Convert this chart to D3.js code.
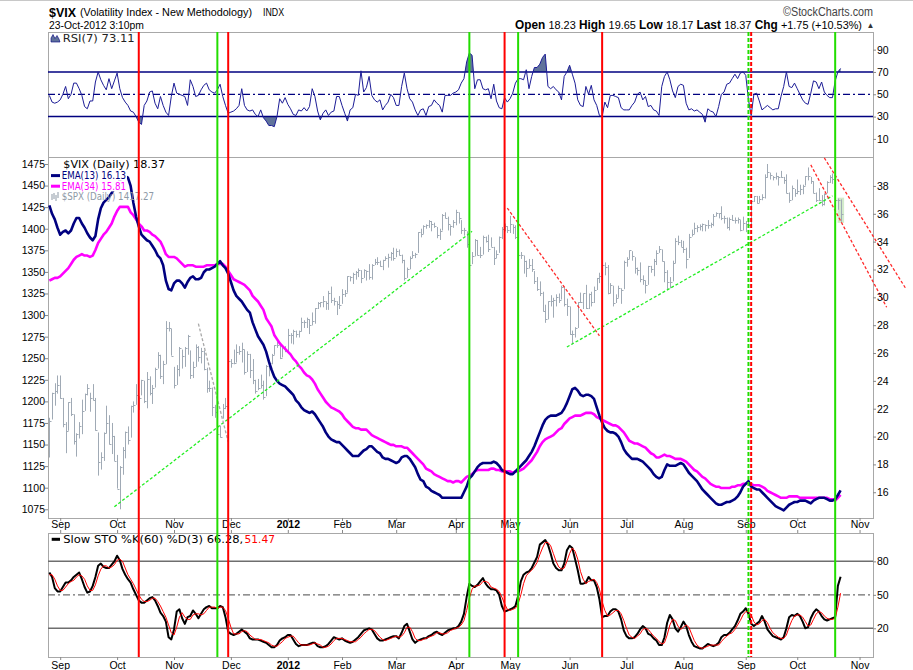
<!DOCTYPE html>
<html><head><meta charset="utf-8">
<script src="https://cdn.jsdelivr.net/npm/d3@7/dist/d3.min.js"></script>
<style>body{margin:0;background:#fff}svg{display:block}</style>
</head><body>
<svg id="c" width="913" height="670"></svg>
<script>
// ---------------- DATA ----------------
const seriesStart = '2011-08-26';
const calendarEnd = '2012-12-31';
const marketHolidays = ['2011-09-05','2011-11-24','2011-12-26','2012-01-02','2012-01-16','2012-02-20','2012-04-06','2012-05-28','2012-07-04','2012-09-03'];

// $SPX daily high / low / close (Aug 26 2011 .. Oct 23 2012)
const spxHigh = [1181,1210,1221,1230,
1230,1204,1176,1199,1204,1185,1163,1176,1202,1209,1220,1210,1220,1204,1164,1141,1164,1195,1184,1175,1160,
1138,1125,1147,1165,1171,1195,1200,1220,1206,1225,1224,1234,1229,1219,1239,1257,1254,1247,1293,1292,1284,
1240,1242,1263,1260,1263,1277,1259,1246,1266,1264,1262,1259,1239,1224,1216,1196,1187,1172,1197,1204,1247,
1249,1260,1266,1264,1268,1260,1258,1255,1249,1225,1226,1231,1224,1242,1245,1255,1265,1269,1266,1264,1264,
1284,1279,1283,1282,1282,1297,1294,1297,1295,1303,1308,1315,1315,1322,1316,1328,1333,1320,1316,1322,
1330,1329,1345,1345,1349,1351,1354,1352,1353,1351,1359,1359,1365,1367,1363,1364,1368,1371,1373,1378,
1377,1376,1370,1364,1355,1368,1374,1372,1396,1400,1404,1405,1410,1409,1407,1402,1400,1417,1419,1414,1404,1410,
1422,1419,1410,1401,1397,1384,1373,1388,1387,1379,1392,1391,1393,1390,1379,1375,1391,1402,1406,1403,
1415,1405,1404,1392,1373,1369,1363,1365,1365,1351,1344,1339,1327,1312,1316,1323,1320,1324,1325,1334,1332,1319,
1310,1282,1286,1315,1326,1325,1335,1325,1327,1333,1343,1349,1363,1361,1358,1337,1334,1324,1334,1331,1363,
1367,1375,1374,1367,1355,1361,1346,1340,1357,1357,1365,1375,1380,1376,1362,1352,1344,1363,1389,1392,1387,
1386,1378,1394,1399,1407,1404,1405,1406,1405,1410,1407,1417,1419,1418,1426,1415,1413,1413,1416,1413,1413,1410,1414,
1409,1408,1433,1438,1438,1438,1440,1463,1475,1465,1461,1465,1461,1467,1460,1463,1442,1450,1446,
1457,1451,1451,1461,1471,1460,1455,1442,1447,1439,1441,1455,1462,1464,1458,1435,1434];
const spxLow = [1135,1179,1195,1209,
1203,1170,1140,1166,1183,1150,1136,1157,1162,1189,1207,1188,1201,1166,1114,1121,1131,1163,1150,1139,1131,
1099,1075,1115,1134,1150,1158,1187,1196,1190,1207,1198,1192,1207,1197,1216,1238,1226,1220,1243,1281,1253,
1215,1219,1229,1238,1240,1254,1226,1227,1240,1246,1244,1236,1210,1211,1183,1181,1161,1158,1180,1191,1197,
1239,1243,1245,1254,1245,1231,1234,1227,1220,1209,1213,1215,1202,1206,1229,1243,1254,1262,1249,1251,1257,
1258,1267,1266,1274,1274,1281,1285,1285,1278,1288,1290,1307,1309,1309,1306,1306,1314,1311,1300,1307,
1313,1321,1326,1339,1336,1341,1344,1337,1343,1340,1341,1341,1358,1358,1356,1352,1363,1355,1363,1363,
1367,1369,1360,1340,1343,1353,1366,1366,1372,1390,1394,1400,1401,1397,1401,1389,1387,1398,1412,1398,1392,1401,
1404,1406,1394,1392,1378,1357,1359,1368,1369,1366,1370,1384,1373,1379,1358,1366,1372,1388,1397,1395,
1395,1394,1388,1367,1365,1348,1344,1354,1350,1336,1328,1322,1304,1291,1295,1310,1297,1310,1314,1318,1310,1299,
1277,1266,1274,1285,1314,1307,1307,1307,1310,1314,1329,1337,1345,1346,1324,1325,1310,1314,1320,1313,1330,
1356,1365,1363,1348,1346,1338,1335,1325,1335,1349,1345,1358,1372,1362,1338,1330,1331,1339,1360,1381,1379,
1372,1354,1366,1391,1394,1396,1398,1397,1397,1400,1401,1403,1414,1412,1410,1406,1400,1398,1409,1406,1406,1397,1398,
1396,1403,1404,1431,1429,1430,1433,1435,1459,1457,1456,1457,1450,1459,1452,1441,1430,1433,1437,
1440,1439,1440,1450,1456,1452,1441,1431,1432,1426,1427,1441,1453,1452,1430,1422,1408];
const spxClose = [1177,1210,1212,1219,
1204,1174,1166,1199,1185,1154,1162,1172,1189,1209,1216,1204,1202,1167,1130,1136,1163,1175,1151,1160,1131,
1099,1124,1144,1165,1155,1195,1196,1207,1204,1225,1200,1226,1210,1215,1238,1254,1229,1243,1285,1285,1253,
1219,1237,1262,1253,1262,1276,1230,1240,1263,1251,1258,1237,1216,1216,1193,1188,1162,1159,1192,1195,1247,
1244,1245,1257,1258,1261,1234,1255,1236,1225,1212,1215,1219,1205,1241,1244,1254,1265,1265,1250,1263,1258,
1277,1277,1281,1278,1281,1292,1292,1296,1289,1293,1308,1314,1315,1316,1314,1326,1318,1316,1313,1312,
1324,1326,1345,1344,1348,1350,1352,1343,1352,1351,1344,1358,1361,1362,1357,1364,1366,1367,1372,1366,
1374,1370,1364,1343,1353,1366,1370,1371,1396,1394,1403,1404,1409,1405,1403,1393,1397,1416,1412,1405,1403,1408,
1419,1413,1398,1398,1382,1358,1368,1387,1370,1369,1390,1386,1377,1379,1366,1371,1391,1400,1403,1398,
1406,1402,1391,1369,1370,1363,1355,1358,1353,1339,1330,1325,1305,1295,1316,1316,1318,1321,1318,1333,1313,1310,
1278,1278,1285,1315,1315,1325,1308,1324,1315,1329,1343,1345,1358,1356,1325,1335,1314,1320,1331,1329,1362,
1365,1375,1368,1355,1352,1342,1341,1335,1357,1353,1363,1372,1377,1363,1350,1338,1338,1360,1386,1385,1379,
1376,1365,1391,1394,1401,1402,1403,1406,1404,1404,1405,1415,1418,1418,1413,1413,1402,1411,1410,1410,1411,1399,1407,
1405,1404,1432,1438,1430,1434,1437,1460,1466,1462,1460,1461,1460,1460,1456,1441,1433,1447,1441,
1444,1446,1450,1461,1461,1455,1441,1433,1433,1429,1440,1454,1460,1458,1433,1433,1417];

// $VIX EMA(13) and EMA(34)
const vixEma13 = [36.6,36.0,35.6,35.0,34.5,34.7,34.8,34.6,34.8,35.3,
35.7,35.7,35.3,35.0,34.6,34.3,34.1,34.4,35.6,36.4,
36.8,37.0,37.2,37.5,37.8,38.1,38.4,38.6,38.7,38.6,
38.0,36.8,35.8,35.1,34.5,34.3,34.1,34.0,33.7,33.4,
33.0,32.8,32.3,31.2,30.6,30.5,31.0,31.2,31.2,31.0,
30.7,31.1,31.4,31.5,31.3,31.3,31.4,31.8,32.0,32.0,
32.1,32.2,32.4,32.6,32.3,32.1,31.7,31.1,30.5,30.1,
29.9,29.7,29.4,29.1,28.9,28.2,27.7,27.2,26.9,26.6,
26.1,25.4,24.8,24.3,24.0,23.8,23.7,23.6,23.4,23.2,
23.0,22.6,22.4,22.1,21.9,21.8,21.7,21.8,21.6,21.3,
21.0,20.7,20.3,20.0,19.8,19.7,19.6,19.6,19.4,19.2,
19.0,18.8,18.6,18.6,18.6,18.8,19.0,19.1,19.3,19.3,
19.1,18.9,18.8,18.5,18.4,18.4,18.3,18.2,18.1,18.2,
18.5,18.6,18.6,18.4,18.1,17.8,17.3,16.9,16.8,16.4,
16.3,16.1,16.0,15.9,15.8,15.6,15.6,15.6,15.6,15.6,
15.6,15.6,15.6,16.0,16.4,17.0,17.2,17.5,17.8,18.0,
18.1,18.1,18.1,18.1,18.2,18.1,17.9,17.6,17.5,17.4,
17.3,17.3,17.5,17.7,17.9,18.1,18.3,18.6,18.9,19.3,
19.8,20.3,20.8,21.2,21.4,21.5,21.5,21.5,21.6,21.7,
22.0,22.4,22.9,23.4,23.5,23.3,23.0,22.9,23.0,23.0,
22.9,22.7,22.1,21.5,21.0,20.6,20.4,20.3,20.3,20.2,
20.0,19.6,19.1,18.8,18.6,18.4,18.4,18.4,18.3,18.2,
18.0,17.8,17.6,17.3,17.1,17.0,17.1,17.6,18.0,17.9,
17.9,17.9,18.0,18.1,18.0,17.7,17.4,17.2,17.0,16.8,
16.5,16.2,16.0,15.8,15.6,15.4,15.2,15.1,15.1,15.2,
15.3,15.3,15.4,15.5,15.7,16.0,16.4,16.6,16.8,16.4,
16.3,16.2,16.2,16.0,15.8,15.6,15.4,15.2,15.0,14.9,
14.8,14.7,14.9,15.1,15.2,15.3,15.3,15.4,15.4,15.4,
15.3,15.2,15.4,15.5,15.6,15.6,15.6,15.5,15.4,15.4,
15.5,15.8,16.13];
const vixEma34 = [31.2,31.3,31.4,31.4,31.5,31.7,31.9,32.1,32.4,32.7,
32.9,33.0,33.1,33.0,33.0,32.9,33.0,33.4,33.9,34.2,
34.5,34.7,35.0,35.3,35.8,36.2,36.5,36.5,36.5,36.5,
36.1,35.9,35.6,35.3,35.1,34.8,34.8,34.7,34.5,34.4,
34.2,34.0,33.6,33.1,32.9,32.9,32.9,32.8,32.6,32.4,
32.2,32.3,32.3,32.3,32.2,32.2,32.2,32.2,32.3,32.3,
32.3,32.3,32.4,32.4,32.4,32.2,31.9,31.6,31.3,31.2,
31.1,31.0,30.9,30.7,30.5,30.1,29.9,29.7,29.4,29.1,
28.5,28.2,27.9,27.3,27.0,26.7,26.5,26.3,26.1,25.9,
25.6,25.4,25.1,24.9,24.6,24.4,24.3,24.1,23.8,23.4,
23.1,22.8,22.5,22.3,22.1,22.0,21.9,21.8,21.6,21.3,
21.1,20.9,20.7,20.6,20.6,20.5,20.5,20.5,20.3,20.1,
20.0,19.9,19.8,19.7,19.6,19.5,19.4,19.4,19.3,19.3,
19.3,19.2,19.2,19.0,18.8,18.6,18.4,18.2,18.0,17.7,
17.6,17.5,17.3,17.2,17.1,17.0,16.9,16.8,16.8,16.7,
16.8,16.8,16.7,16.9,17.1,17.2,17.3,17.5,17.6,17.6,
17.6,17.6,17.6,17.7,17.7,17.6,17.6,17.5,17.5,17.5,
17.5,17.4,17.5,17.5,17.6,17.7,17.9,18.1,18.3,18.6,
18.9,19.3,19.6,19.8,19.9,20.0,20.1,20.3,20.5,20.6,
20.9,21.1,21.3,21.4,21.5,21.5,21.5,21.6,21.7,21.7,
21.7,21.6,21.4,21.3,21.2,21.1,21.0,20.9,20.8,20.8,
20.7,20.5,20.3,20.0,19.7,19.6,19.5,19.5,19.4,19.3,
19.2,19.0,18.8,18.7,18.5,18.5,18.6,18.7,18.6,18.6,
18.5,18.4,18.4,18.4,18.3,18.2,18.0,17.8,17.6,17.5,
17.3,17.1,17.0,16.8,16.6,16.5,16.4,16.4,16.3,16.3,
16.3,16.3,16.4,16.4,16.5,16.5,16.6,16.6,16.7,16.6,
16.5,16.5,16.5,16.4,16.3,16.1,16.0,15.9,15.8,15.7,
15.6,15.6,15.6,15.7,15.7,15.7,15.7,15.6,15.6,15.6,
15.6,15.6,15.6,15.6,15.6,15.6,15.6,15.6,15.5,15.5,
15.4,15.6,15.81];

// RSI(7) of $VIX
const vixRsi7 = [49,43,42,43,45,50,57,46,50,60,
60,55,49,39,37,44,44,61,70,63,
58,54,64,55,62,69,55,47,43,40,
35,34,30,25,23,40,44,52,53,42,
37,48,40,34,31,48,60,51,50,49,
48,40,63,57,48,49,54,58,60,54,
52,51,54,59,48,40,33,34,35,37,
40,55,40,36,35,36,32,30,36,29,
26,22,22,21,30,46,42,47,41,37,
32,31,36,35,38,35,39,55,48,35,
27,33,36,31,34,35,48,48,40,33,
26,36,38,50,49,71,52,56,66,49,
45,43,45,36,40,43,50,47,40,40,
57,69,55,46,43,36,31,36,37,31,
39,40,45,42,40,34,49,49,49,51,
52,54,60,64,79,87,85,55,63,63,
55,54,55,46,59,44,38,37,47,43,
46,51,60,64,64,63,72,55,66,74,
74,77,83,86,57,55,57,54,52,45,
66,70,76,68,60,45,40,39,57,50,
58,45,40,31,30,43,38,49,49,48,
47,38,36,36,36,40,43,50,52,45,
48,39,40,36,35,31,57,66,70,63,
53,47,57,59,58,42,36,37,35,36,
34,32,25,37,35,34,30,39,50,52,
59,60,64,68,64,69,70,67,45,31,
50,51,44,36,38,40,38,36,37,37,
48,57,70,57,56,60,55,50,45,42,
41,51,62,61,55,61,52,49,47,47,
62,70,73.11];

// Slow Stochastic %K(60) and %D(3) of $VIX
const stoK = [70,66,56,53,53,57,61,61,63,66,
68,70,64,57,52,53,58,66,76,78,
75,74,74,77,80,85,81,73,68,64,
61,55,50,45,43,43,45,47,48,45,
40,34,31,26,12,10,19,35,37,29,
24,30,31,36,33,29,33,37,39,40,
38,38,38,40,39,30,17,15,14,15,
17,19,17,15,11,10,10,10,9,8,
7,5,3,3,5,9,11,12,14,14,
10,6,4,5,5,5,6,7,7,4,
3,3,4,6,9,12,11,10,11,9,
8,7,8,10,12,15,18,19,20,19,
15,11,9,9,10,11,12,13,13,11,
16,22,24,17,10,7,9,10,11,11,
13,14,16,17,15,14,16,18,19,20,
20,22,26,33,48,60,58,57,59,62,
65,60,57,55,55,54,50,40,35,36,
37,38,40,49,62,68,70,71,74,79,
84,95,97,99,95,87,78,74,72,72,
78,90,94,92,82,72,60,60,61,66,
63,63,57,46,30,31,31,35,37,37,
35,28,18,13,11,11,12,15,19,22,
20,15,14,11,9,5,5,12,25,32,
28,20,17,21,26,22,14,8,4,3,
2,2,4,6,5,4,5,7,12,14,
14,16,19,22,27,33,35,38,33,24,
22,24,26,31,26,19,16,13,12,11,
10,12,20,30,32,31,33,31,26,20,
21,29,34,37,35,31,28,27,28,29,
30,58,66.28];
const stoD = [68,68,64,58,54,54,57,60,62,63,
66,68,67,64,58,54,54,59,67,73,
76,76,74,75,77,81,82,80,74,68,
64,60,55,50,46,44,44,45,47,47,
44,40,35,30,23,16,14,21,30,34,
30,28,28,32,33,33,32,33,36,39,
39,39,38,39,39,36,29,21,15,15,
15,17,18,17,14,12,10,10,10,9,
8,7,5,4,4,6,8,11,12,13,
13,10,7,5,5,5,5,6,7,6,
5,3,3,4,6,9,11,11,11,10,
9,8,8,8,10,12,15,17,19,19,
18,15,12,10,9,10,11,12,13,12,
13,16,21,21,17,11,9,9,10,11,
12,13,14,16,16,15,15,16,18,19,
20,21,23,27,36,47,55,58,58,59,
62,62,61,57,56,55,53,48,42,37,
36,37,38,42,50,60,67,70,72,75,
79,86,92,97,97,94,87,80,75,73,
74,80,87,92,89,82,71,64,60,62,
63,64,61,55,44,36,31,32,34,36,
36,33,27,20,14,12,11,13,15,19,
20,19,16,13,11,8,6,7,14,23,
28,27,22,19,21,23,21,15,9,5,
3,2,3,4,5,5,5,5,8,11,
13,15,16,19,23,27,32,35,35,32,
26,23,24,27,28,25,20,16,14,12,
11,11,14,21,27,31,32,32,30,26,
22,23,28,33,35,34,31,29,28,28,
29,39,51.47];

// axis tick labels
const rsiTicks = [90,70,50,30,10];
const spxTicks = [1475,1450,1425,1400,1375,1350,1325,1300,1275,1250,1225,1200,1175,1150,1125,1100,1075];
const vixTicks = [38,36,34,32,30,28,26,24,22,20,18,16];
const stoTicks = [80,50,20];

// signal markers (vertical lines)
const buySignals  = [{date:'2011-11-23'},{date:'2012-04-10'},{date:'2012-05-04'},{date:'2012-09-05',dashed:true},{date:'2012-10-19'}];
const sellSignals = [{date:'2011-10-13'},{date:'2011-11-30'},{date:'2012-04-27'},{date:'2012-06-19'},{date:'2012-09-06',dashed:true}];

// hand-drawn trend lines on $SPX [date, price]
const trendLines = [
  {kind:'up',   from:['2011-09-30',1078], to:['2012-04-11',1397]},
  {kind:'gray', from:['2011-11-14',1290], to:['2011-11-30',1153]},
  {kind:'down', from:['2012-04-30',1424], to:['2012-06-18',1276]},
  {kind:'up',   from:['2012-05-31',1263], to:['2012-10-18',1438]},
  {kind:'down', from:['2012-10-08',1474], to:['2012-11-15',1309]},
  {kind:'down', from:['2012-10-15',1482], to:['2012-11-26',1331]}
];

const quote = [['Open','18.23'],['High','19.65'],['Low','18.17'],['Last','18.37'],['Chg','+1.75 (+10.53%)']];

// ---------------- DRAWING ----------------
const svg = d3.select('#c');
const FONT = "'Liberation Sans', Arial, sans-serif";
const VFONT = "'DejaVu Sans', Verdana, sans-serif";
const NAVY = '#000080', MAG = '#ff00ff', GREEN = '#22dd00', RED = '#ff0000', BARC = '#a0aab5';
const L = 48, R = 873;
const P = {rsi:[32,157], main:[157,518], sto:[533,657]};

const parse = d3.utcParse('%Y-%m-%d'), fmt = d3.utcFormat('%Y-%m-%d');
const hol = new Set(marketHolidays);
const calendar = d3.utcDay.range(parse(seriesStart), d3.utcDay.offset(parse(calendarEnd), 1))
  .filter(d => d.getUTCDay() !== 0 && d.getUTCDay() !== 6 && !hol.has(fmt(d)));
const dayIdx = new Map(calendar.map((d, i) => [fmt(d), i]));
const di = s => dayIdx.get(s);

const x = d3.scaleLinear().domain([-0.5, 303.96]).range([L, R]);
const yR = d3.scaleLinear().domain([-6.2, 105.8]).range([P.rsi[1], P.rsi[0]]);
const yS = d3.scaleLinear().domain([1064.9, 1483.1]).range([P.main[1], P.main[0]]);
const yV = d3.scaleLinear().domain([14.15, 40.08]).range([P.main[1], P.main[0]]);
const yK = d3.scaleLinear().domain([-5.7, 105.4]).range([P.sto[1], P.sto[0]]);

function addText(parent, str, tx, ty, o = {}) {
  const t = parent.append('text').attr('x', tx).attr('y', ty).text(str)
    .attr('font-family', o.family || FONT).attr('font-size', o.size || 11)
    .attr('fill', o.fill || '#000');
  if (o.weight) t.attr('font-weight', o.weight);
  if (o.anchor) t.attr('text-anchor', o.anchor);
  if (o.len) t.attr('textLength', o.len).attr('lengthAdjust', 'spacingAndGlyphs');
  return t;
}

svg.append('rect').attr('width', 913).attr('height', 670).attr('fill', '#fff');
svg.append('line').attr('x1', 0).attr('x2', 913).attr('y1', 0.5).attr('y2', 0.5).attr('stroke', '#c8c8c8');

// panel frames
Object.entries(P).forEach(([k, [t, b]]) => {
  svg.append('rect').attr('x', L + 0.5).attr('y', t + 0.5).attr('width', R - L).attr('height', b - t)
    .attr('fill', '#fff').attr('stroke', '#a8a8a8');
});
const defs = svg.append('defs');
function clip(id, x0, y0, x1, y1) {
  defs.append('clipPath').attr('id', id).append('rect').attr('x', x0).attr('y', y0).attr('width', x1 - x0).attr('height', y1 - y0);
  return `url(#${id})`;
}

// ---------- RSI panel ----------
const gR = svg.append('g').attr('clip-path', clip('cr', L, P.rsi[0], R, P.rsi[1]));
const rsiArea = d3.area().x((d, i) => x(i)).y1(d => yR(d));
gR.append('path').datum(vixRsi7).attr('d', rsiArea.y0(yR(70))).attr('fill', '#60739b')
  .attr('clip-path', clip('crHi', L, P.rsi[0], R, yR(70)));
gR.append('path').datum(vixRsi7).attr('d', rsiArea.y0(yR(30))).attr('fill', '#60739b')
  .attr('clip-path', clip('crLo', L, yR(30), R, P.rsi[1]));
[70, 30].forEach(v => gR.append('line').attr('x1', L).attr('x2', R).attr('y1', yR(v)).attr('y2', yR(v))
  .attr('stroke', NAVY).attr('stroke-width', 1.5));
gR.append('line').attr('x1', L).attr('x2', R).attr('y1', yR(50)).attr('y2', yR(50))
  .attr('stroke', NAVY).attr('stroke-width', 1.2).attr('stroke-dasharray', '7,3,2,3');
gR.append('path').datum(vixRsi7).attr('d', d3.line().x((d, i) => x(i)).y(d => yR(d)))
  .attr('fill', 'none').attr('stroke', '#1c1c96').attr('stroke-width', 1);
// RSI legend
svg.append('path').attr('d', 'M51,42 L51,38 L53,34.5 L55,38.5 L57,35.5 L59,39 L60,42 Z').attr('fill', '#5f719a').attr('stroke', NAVY).attr('stroke-width', 0.6);
addText(svg, 'RSI(7) 73.11', 62.7, 41.7, {family: VFONT, size: 10, len: 72, fill: '#222'});

// ---------- Main panel ----------
const gM = svg.append('g').attr('clip-path', clip('cm', L, P.main[0], R, P.main[1]));
const last = spxClose.length - 1;
gM.append('rect').attr('x', x(last) - 3).attr('width', 6.5).attr('y', yS(spxHigh[last] + 2))
  .attr('height', yS(spxLow[last]) - yS(spxHigh[last] + 2) + 1).attr('fill', '#d2ebcb');
const bars = gM.append('g').attr('stroke', BARC).attr('stroke-width', 1);
spxClose.forEach((c, i) => {
  const xi = Math.round(x(i)) + 0.5;
  bars.append('line').attr('x1', xi).attr('x2', xi).attr('y1', yS(spxHigh[i])).attr('y2', yS(spxLow[i]));
  bars.append('line').attr('x1', xi).attr('x2', xi + 2).attr('y1', Math.round(yS(c)) + 0.5).attr('y2', Math.round(yS(c)) + 0.5);
});
// SPX legend (under the EMA lines)
const spxIcon = svg.append('g').attr('stroke', '#8e99a6');
[[52,194,200],[54,193,199],[56,195,201],[58,192,198]].forEach(([a, b, c]) =>
  spxIcon.append('line').attr('x1', a).attr('x2', a).attr('y1', b).attr('y2', c));
addText(svg, '$SPX (Daily) 1417.27', 61.7, 200.3, {family: VFONT, size: 10, len: 92.3, fill: '#8e99a6'});

const emaLine = d3.line().x((d, i) => x(i)).y(d => yV(d));
gM.append('path').datum(vixEma34).attr('d', emaLine).attr('fill', 'none').attr('stroke', MAG).attr('stroke-width', 2.6).attr('stroke-linejoin', 'round');
gM.append('path').datum(vixEma13).attr('d', emaLine).attr('fill', 'none').attr('stroke', NAVY).attr('stroke-width', 2.6).attr('stroke-linejoin', 'round');

// legend rows with white backing
const legRows = [
  {txt: '$VIX (Daily) 18.37', x: 63.3, y: 168.3, len: 101.7, fill: '#000'},
  {txt: 'EMA(13) 16.13', x: 61.7, y: 179.2, len: 64.3, fill: NAVY, mark: NAVY},
  {txt: 'EMA(34) 15.81', x: 61.7, y: 189.8, len: 64.3, fill: MAG, mark: MAG}
];
legRows.forEach(r => {
  svg.append('rect').attr('x', 49).attr('y', r.y - 9).attr('width', r.x + r.len - 49 + 1).attr('height', 10.6).attr('fill', '#fff');
});
legRows.forEach(r => {
  if (r.mark) svg.append('line').attr('x1', 51).attr('x2', 60).attr('y1', r.y - 3.6).attr('y2', r.y - 3.6).attr('stroke', r.mark).attr('stroke-width', 3);
  addText(svg, r.txt, r.x, r.y, {family: VFONT, size: 10, len: r.len, fill: r.fill});
});

// trend lines
const tColor = {up: '#22ee22', down: '#ff2a2a', gray: '#a8a8a8'};
trendLines.forEach(t => {
  svg.append('line').attr('x1', x(di(t.from[0]))).attr('y1', yS(t.from[1]))
    .attr('x2', x(di(t.to[0]))).attr('y2', yS(t.to[1]))
    .attr('stroke', tColor[t.kind]).attr('stroke-width', 1.3).attr('stroke-dasharray', '3,2');
});

// ---------- Stochastic panel ----------
const gK = svg.append('g').attr('clip-path', clip('ck', L, P.sto[0], R, P.sto[1]));
[80, 20].forEach(v => gK.append('line').attr('x1', L).attr('x2', R).attr('y1', yK(v)).attr('y2', yK(v))
  .attr('stroke', '#6e6e6e').attr('stroke-width', 1.5));
gK.append('line').attr('x1', L).attr('x2', R).attr('y1', yK(50)).attr('y2', yK(50))
  .attr('stroke', '#6e6e6e').attr('stroke-width', 1.1).attr('stroke-dasharray', '7,3,2,3');
const kLine = d3.line().x((d, i) => x(i)).y(d => yK(d));
gK.append('path').datum(stoK).attr('d', kLine).attr('fill', 'none').attr('stroke', '#000').attr('stroke-width', 2).attr('stroke-linejoin', 'round');
gK.append('path').datum(stoD).attr('d', kLine).attr('fill', 'none').attr('stroke', '#ff0000').attr('stroke-width', 1);
svg.append('line').attr('x1', 51.7).attr('x2', 60).attr('y1', 539.3).attr('y2', 539.3).attr('stroke', '#000').attr('stroke-width', 3);
addText(svg, 'Slow STO %K(60) %D(3) 66.28,', 63.3, 542.8, {family: VFONT, size: 10, len: 180});
addText(svg, '51.47', 244.5, 542.8, {family: VFONT, size: 10, len: 30.5, fill: '#ff0000'});

// ---------- Axes ----------
function styleAxis(g) {
  g.select('.domain').remove();
  g.selectAll('line').attr('stroke', '#888');
  g.selectAll('text').attr('font-family', FONT).attr('font-size', 10.5).attr('fill', '#000');
}
const plain = d3.format('d');
svg.append('g').attr('transform', `translate(${R},0)`).call(d3.axisRight(yR).tickValues(rsiTicks).tickFormat(plain).tickSize(3).tickPadding(1)).call(styleAxis);
svg.append('g').attr('transform', `translate(${L},0)`).call(d3.axisLeft(yS).tickValues(spxTicks).tickFormat(plain).tickSize(3).tickPadding(0)).call(styleAxis);
svg.append('g').attr('transform', `translate(${R},0)`).call(d3.axisRight(yV).tickValues(vixTicks).tickFormat(plain).tickSize(3).tickPadding(1)).call(styleAxis);
svg.append('g').attr('transform', `translate(${R},0)`).call(d3.axisRight(yK).tickValues(stoTicks).tickFormat(plain).tickSize(3).tickPadding(1)).call(styleAxis);

// month ticks from the trading calendar
const months = d3.utcMonth.range(parse('2011-09-01'), parse('2012-12-01'));
const monthIdx = [], monthLbl = [];
months.forEach(m => {
  const i = calendar.findIndex(d => d >= m);
  if (i >= 0 && x(i) <= R) { monthIdx.push(i); monthLbl.push(m.getUTCMonth() === 0 ? d3.utcFormat('%Y')(m) : d3.utcFormat('%b')(m)); }
});
const fmtMonth = (v) => monthLbl[monthIdx.indexOf(v)];
function styleX(g) {
  styleAxis(g);
  g.selectAll('text').filter(t => /^\d{4}$/.test(fmtMonth(t))).attr('font-weight', 'bold');
}
svg.append('g').attr('transform', `translate(0,${P.main[1]})`).call(d3.axisBottom(x).tickValues(monthIdx).tickFormat(fmtMonth).tickSize(3).tickPadding(0)).call(styleX);
svg.append('g').attr('transform', `translate(0,${P.sto[0]})`).call(d3.axisTop(x).tickValues(monthIdx).tickFormat('').tickSize(3)).call(styleAxis);
svg.append('g').attr('transform', `translate(0,${P.sto[1]})`).call(d3.axisBottom(x).tickValues(monthIdx).tickFormat(fmtMonth).tickSize(3).tickPadding(1.5)).call(styleX);

// ---------- Signal lines (over everything) ----------
function signal(s, color) {
  const xi = x(di(s.date));
  svg.append('line').attr('x1', xi).attr('x2', xi).attr('y1', P.rsi[0]).attr('y2', P.sto[1])
    .attr('stroke', color).attr('stroke-width', 2).attr('stroke-dasharray', s.dashed ? '4,2' : null);
}
buySignals.forEach(s => signal(s, GREEN));
sellSignals.forEach(s => signal(s, RED));

// ---------- Header ----------
addText(svg, '$VIX', 49, 16.5, {size: 13.5, weight: 'bold', len: 27});
addText(svg, '(Volatility Index - New Methodology)', 80, 16, {size: 11.5, len: 172});
addText(svg, 'INDX', 263, 16, {size: 10.5, len: 21});
addText(svg, '23-Oct-2012 3:10pm', 49, 29, {size: 10.5, len: 95});
addText(svg, '\u00A9StockCharts.com', 783, 16, {size: 12, len: 90, fill: '#444'});
const qt = svg.append('text').attr('x', 515).attr('y', 28.5).attr('font-family', FONT).attr('font-size', 11.5)
  .attr('textLength', 347).attr('lengthAdjust', 'spacingAndGlyphs');
quote.forEach(([k, v], i) => {
  qt.append('tspan').attr('font-weight', 'bold').attr('font-size', 12.5).text((i ? ' ' : '') + k + ' ');
  qt.append('tspan').text(v);
});
addText(svg, '\u25B2', 866.5, 27.5, {size: 8, fill: '#333'});
</script>
</body></html>
